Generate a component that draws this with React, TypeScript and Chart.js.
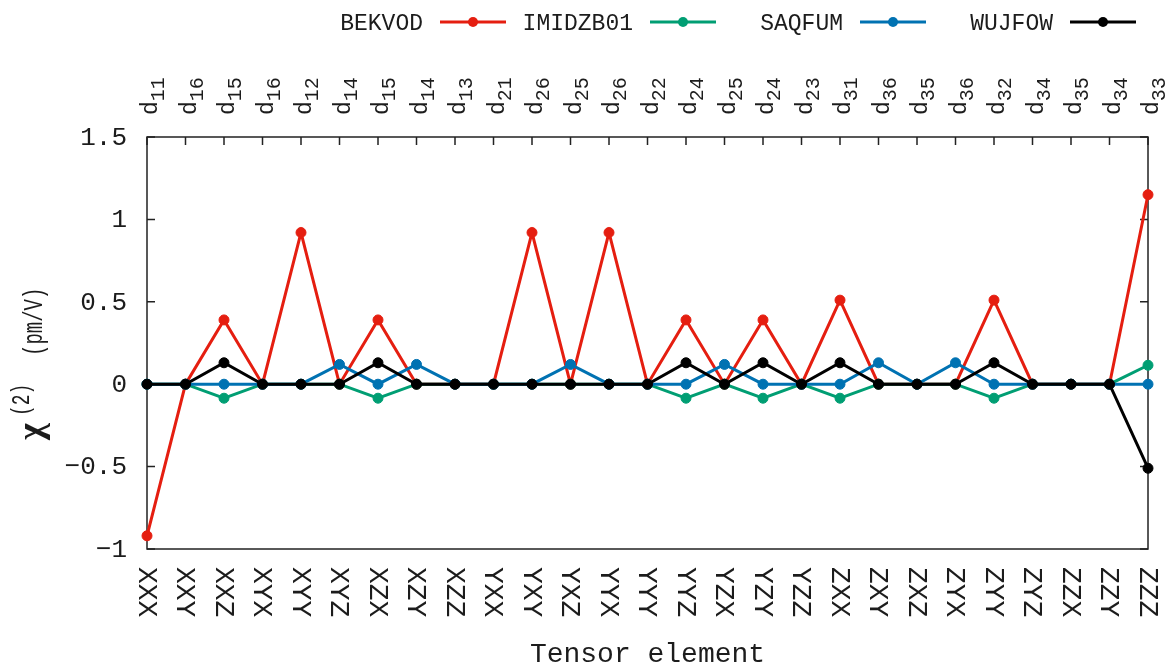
import React, { useEffect, useRef } from "react";
import { Chart, registerables } from "chart.js";

Chart.register(...registerables);

const TENSOR_ELEMENTS = ["XXX", "XXY", "XXZ", "XYX", "XYY", "XYZ", "XZX", "XZY", "XZZ", "YXX", "YXY", "YXZ", "YYX", "YYY", "YYZ", "YZX", "YZY", "YZZ", "ZXX", "ZXY", "ZXZ", "ZYX", "ZYY", "ZYZ", "ZZX", "ZZY", "ZZZ"];
const D_SUBSCRIPTS = ["11", "16", "15", "16", "12", "14", "15", "14", "13", "21", "26", "25", "26", "22", "24", "25", "24", "23", "31", "36", "35", "36", "32", "34", "35", "34", "33"];

const BEKVOD = [-0.92, 0, 0.39, 0, 0.92, 0, 0.39, 0, 0, 0, 0.92, 0, 0.92, 0, 0.39, 0, 0.39, 0, 0.51, 0, 0, 0, 0.51, 0, 0, 0, 1.15];
const IMIDZB01 = [0, 0, -0.085, 0, 0, 0, -0.085, 0, 0, 0, 0, 0, 0, 0, -0.085, 0, -0.085, 0, -0.085, 0, 0, 0, -0.085, 0, 0, 0, 0.115];
const SAQFUM = [0, 0, 0, 0, 0, 0.12, 0, 0.12, 0, 0, 0, 0.12, 0, 0, 0, 0.12, 0, 0, 0, 0.13, 0, 0.13, 0, 0, 0, 0, 0];
const WUJFOW = [0, 0, 0.13, 0, 0, 0, 0.13, 0, 0, 0, 0, 0, 0, 0, 0.13, 0, 0.13, 0, 0.13, 0, 0, 0, 0.13, 0, 0, 0, -0.51];

const Y_TICKS = [-1, -0.5, 0, 0.5, 1, 1.5];
const Y_TICK_LABELS = ["\u22121", "\u22120.5", "0", "0.5", "1", "1.5"];
const SERIES_NAMES = ["BEKVOD", "IMIDZB01", "SAQFUM", "WUJFOW"];
const SERIES_VALUES = [BEKVOD, IMIDZB01, SAQFUM, WUJFOW];

const COLORS = ["#e51e10", "#009e73", "#0072b2", "#000000"];
const MONO = '"Liberation Mono", "DejaVu Sans Mono", monospace';
const TEXT_COLOR = "#1c1c1c";

const decor = {
  id: "decor",
  beforeDatasetsDraw(chart: any) {
    const { ctx, chartArea: a, scales } = chart;
    const xs = scales.x;
    const ys = scales.y;
    ctx.save();
    ctx.strokeStyle = "#222";
    ctx.lineWidth = 1.5;
    ctx.strokeRect(a.left, a.top, a.right - a.left, a.bottom - a.top);
    ctx.beginPath();
    for (const v of Y_TICKS) {
      const py = ys.getPixelForValue(v);
      ctx.moveTo(a.left, py);
      ctx.lineTo(a.left + 8, py);
      ctx.moveTo(a.right, py);
      ctx.lineTo(a.right - 8, py);
    }
    TENSOR_ELEMENTS.forEach((_, i) => {
      const px = xs.getPixelForValue(i);
      ctx.moveTo(px, a.top);
      ctx.lineTo(px, a.top + 8);
    });
    ctx.stroke();
    ctx.restore();
  },
  afterDraw(chart: any) {
    const { ctx, chartArea: a, scales } = chart;
    const xs = scales.x;
    const ys = scales.y;
    ctx.save();
    ctx.fillStyle = TEXT_COLOR;

    // y tick labels
    ctx.font = `26px ${MONO}`;
    ctx.textAlign = "right";
    ctx.textBaseline = "middle";
    Y_TICKS.forEach((v, i) => {
      ctx.fillText(Y_TICK_LABELS[i], a.left - 20, ys.getPixelForValue(v) + 1);
    });

    // bottom tensor labels (rotated, reading downwards)
    TENSOR_ELEMENTS.forEach((lab, i) => {
      const px = xs.getPixelForValue(i);
      ctx.save();
      ctx.translate(px - 1, a.bottom + 18);
      ctx.rotate(Math.PI / 2);
      ctx.font = `28px ${MONO}`;
      ctx.textAlign = "left";
      ctx.textBaseline = "middle";
      ctx.fillText(lab, 0, 0);
      ctx.restore();
    });

    // top d_ij labels (rotated, reading upwards)
    D_SUBSCRIPTS.forEach((sub, i) => {
      const px = xs.getPixelForValue(i);
      ctx.save();
      ctx.translate(px + 10, a.top - 22);
      ctx.rotate(-Math.PI / 2);
      ctx.textAlign = "left";
      ctx.textBaseline = "alphabetic";
      ctx.font = `23px ${MONO}`;
      ctx.fillText("d", 0, 0);
      const w = ctx.measureText("d").width;
      ctx.font = `20px ${MONO}`;
      ctx.fillText(sub, w, 7);
      ctx.restore();
    });

    // x title
    ctx.font = `28px ${MONO}`;
    ctx.textAlign = "center";
    ctx.textBaseline = "alphabetic";
    ctx.fillText("Tensor element", (a.left + a.right) / 2, 662);

    // y title
    ctx.save();
    ctx.translate(42, 440);
    ctx.rotate(-Math.PI / 2);
    ctx.textAlign = "left";
    ctx.textBaseline = "alphabetic";
    ctx.font = 'bold 36px "Liberation Serif", serif';
    ctx.fillText("\u03c7", 0, 0);
    ctx.save();
    ctx.translate(24, -13);
    ctx.scale(1, 1.4);
    ctx.font = `18px ${MONO}`;
    ctx.fillText("(2)", 0, 0);
    ctx.restore();
    ctx.save();
    ctx.translate(84, 0);
    ctx.scale(1, 1.45);
    ctx.font = `19px ${MONO}`;
    ctx.fillText("(pm/V)", 0, 0);
    ctx.restore();
    ctx.restore();

    // legend
    SERIES_NAMES.forEach((name, i) => {
      const xr = 423 + i * 210;
      ctx.fillStyle = TEXT_COLOR;
      ctx.font = `23px ${MONO}`;
      ctx.textAlign = "right";
      ctx.textBaseline = "alphabetic";
      ctx.fillText(name, xr, 30);
      ctx.strokeStyle = COLORS[i];
      ctx.lineWidth = 3;
      ctx.beginPath();
      ctx.moveTo(xr + 17, 22);
      ctx.lineTo(xr + 83, 22);
      ctx.stroke();
      ctx.fillStyle = COLORS[i];
      ctx.beginPath();
      ctx.arc(xr + 50, 22, 5, 0, Math.PI * 2);
      ctx.fill();
    });
    ctx.restore();
  },
};

export default function App() {
  const ref = useRef<HTMLCanvasElement>(null);
  useEffect(() => {
    document.body.style.margin = "0";
    const orders = [4, 3, 2, 1];
    const chart = new Chart(ref.current!, {
      type: "line",
      data: {
        labels: TENSOR_ELEMENTS,
        datasets: SERIES_NAMES.map((name, i) => ({
          label: name,
          data: SERIES_VALUES[i],
          borderColor: COLORS[i],
          backgroundColor: COLORS[i],
          pointBackgroundColor: COLORS[i],
          pointBorderColor: COLORS[i],
          borderWidth: 3,
          pointRadius: 5,
          pointBorderWidth: 1,
          tension: 0,
          fill: false,
          clip: false as any,
          order: orders[i],
        })),
      },
      options: {
        responsive: false,
        animation: false,
        devicePixelRatio: 1,
        layout: { padding: { left: 147, right: 19, top: 137, bottom: 118 } },
        plugins: { legend: { display: false }, tooltip: { enabled: false } },
        scales: {
          x: { type: "category", display: false, offset: false },
          y: { type: "linear", display: false, min: -1, max: 1.5 },
        },
      },
      plugins: [decor],
    });
    return () => chart.destroy();
  }, []);
  return <canvas ref={ref} width={1167} height={667} style={{ display: "block" }} />;
}
